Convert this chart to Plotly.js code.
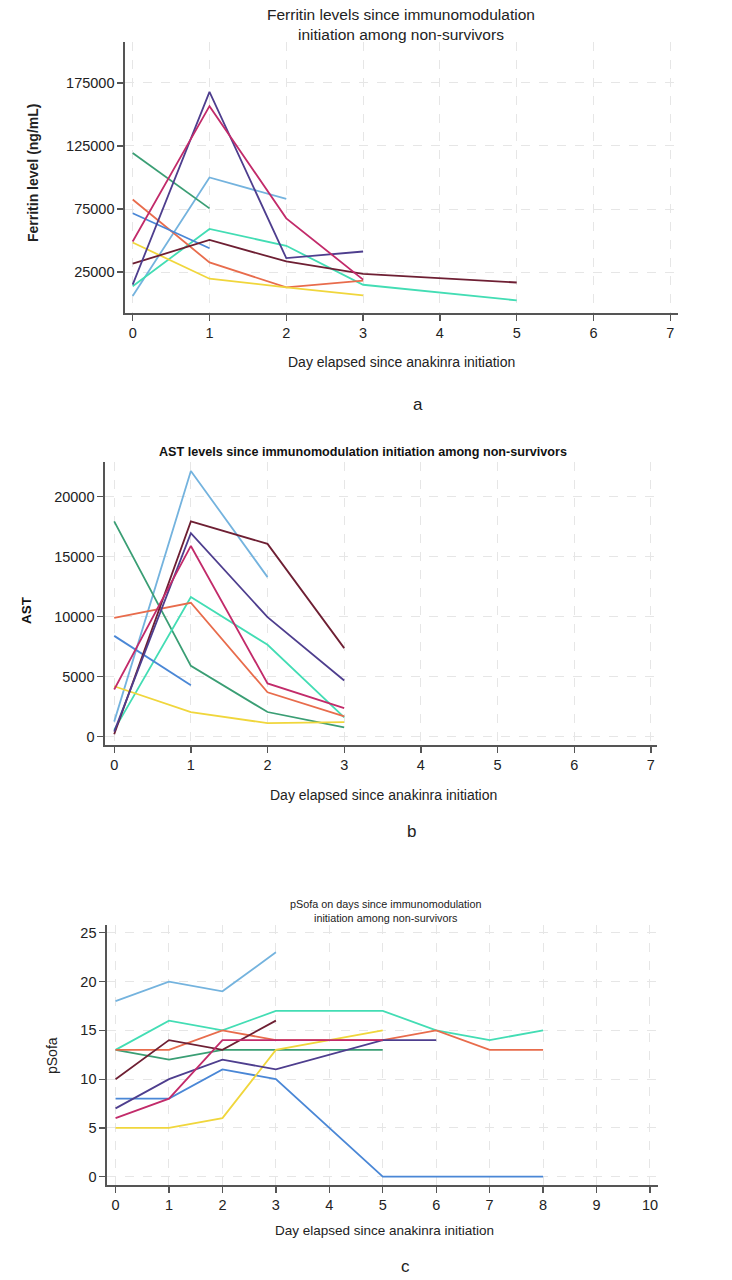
<!DOCTYPE html>
<html>
<head>
<meta charset="utf-8">
<script src="https://cdn.plot.ly/plotly-3.0.1.min.js"></script>
<style>html,body{margin:0;padding:0;background:#fff;}#chart{width:732px;height:1280px;}</style>
</head>
<body>
<div id="chart"></div>
<script>
// ---------- Colours (one per patient) ----------
const seriesNames = ["P1","P2","P3","P4","P5","P6","P7","P8","P9"];
const seriesColors = ["#74B3DE","#3A9E74","#43DDB4","#E86C4C","#4A87D6","#F0D63C","#6E1F33","#4E3E8E","#C22B6A"];

// ---------- Panel a: Ferritin (ng/mL) ----------
const ferDays = [
  [0,1,2],
  [0,1],
  [0,1,2,3,5],
  [0,1,2,3],
  [0,1],
  [0,1,2,3],
  [0,1,2,3,5],
  [0,1,2,3],
  [0,1,2,3]
];
const ferVals = [
  [6000,100000,83000],
  [119500,75500],
  [13700,59200,45800,14900,2500],
  [82600,32600,12900,18200],
  [71600,43900],
  [48400,19700,12900,6500],
  [31600,50500,33400,23600,16700],
  [15000,167900,36000,41300],
  [49200,156600,67600,19000]
];
const ferTicks = [25000,75000,125000,175000];
const ferDayTicks = [0,1,2,3,4,5,6,7];

// ---------- Panel b: AST ----------
const astDays = [
  [0,1,2],
  [0,1,2,3],
  [0,1,2,3],
  [0,1,2,3],
  [0,1],
  [0,1,2,3],
  [0,1,2,3],
  [0,1,2,3],
  [0,1,2,3]
];
const astVals = [
  [1250,22150,13300],
  [17950,5900,2050,760],
  [560,11640,7660,1600],
  [9900,11160,3700,1680],
  [8400,4290],
  [4200,2050,1120,1200],
  [200,17950,16070,7380],
  [420,16970,9960,4680],
  [3930,15900,4430,2380]
];
const astTicks = [0,5000,10000,15000,20000];
const astDayTicks = [0,1,2,3,4,5,6,7];

// ---------- Panel c: pSofa ----------
const sofaDays = [
  [0,1,2,3],
  [0,1,2,3,5],
  [0,1,2,3,5,6,7,8],
  [0,1,2,3,5,6,7,8],
  [0,1,2,3,5,6,7,8],
  [0,1,2,3,5],
  [0,1,2,3],
  [0,1,2,3,5,6],
  [0,1,2,3,5]
];
const sofaVals = [
  [18,20,19,23],
  [13,12,13,13,13],
  [13,16,15,17,17,15,14,15],
  [13,13,15,14,14,15,13,13],
  [8,8,11,10,0,0,0,0],
  [5,5,6,13,15],
  [10,14,13,16],
  [7,10,12,11,14,14],
  [6,8,14,14,14]
];
const sofaTicks = [0,5,10,15,20,25];
const sofaDayTicks = [0,1,2,3,4,5,6,7,8,9,10];

// ---------- Text ----------
const titleA = "Ferritin levels since immunomodulation<br>initiation among non-survivors";
const titleB = "AST levels since immunomodulation initiation among non-survivors";
const titleC = "pSofa on days since immunomodulation<br>initiation among non-survivors";
const xTitle = "Day elapsed since anakinra initiation";
const yTitleA = "Ferritin level (ng/mL)";
const yTitleB = "AST";
const yTitleC = "pSofa";

// ---------- Build ----------
const W = 732, H = 1280;
const px = v => v / W;
const py = v => 1 - v / H;
const FONT = "Liberation Sans, Arial, Helvetica, sans-serif";

const traces = [];
function addPanel(days, vals, xa, ya) {
  days.forEach((d, i) => {
    traces.push({
      type: "scatter", mode: "lines",
      x: d, y: vals[i],
      xaxis: xa, yaxis: ya,
      name: seriesNames[i],
      line: {color: seriesColors[i], width: 1.8},
      showlegend: false, hoverinfo: "skip"
    });
  });
}
addPanel(ferDays, ferVals, "x", "y");
addPanel(astDays, astVals, "x2", "y2");
addPanel(sofaDays, sofaVals, "x3", "y3");

function axis(domain, range, ticks, anchor) {
  return {
    domain: domain, range: range, anchor: anchor,
    tickmode: "array", tickvals: ticks, ticktext: ticks.map(String),
    showline: true, linecolor: "#555", linewidth: 1.6,
    ticks: "outside", ticklen: 6, tickcolor: "#555", tickwidth: 1.3,
    showgrid: true, gridcolor: "#e6e6e6", gridwidth: 1, griddash: "dash",
    zeroline: false, fixedrange: true,
    tickfont: {family: FONT, size: 14.5, color: "#222"}
  };
}

function ann(text, x, y, size, opts) {
  return Object.assign({
    text: text, xref: "paper", yref: "paper", x: px(x), y: py(y),
    xanchor: "center", yanchor: "middle", showarrow: false,
    font: {family: FONT, size: size, color: "#222"}
  }, opts || {});
}

const layout = {
  width: W, height: H,
  margin: {l: 0, r: 0, t: 0, b: 0},
  paper_bgcolor: "#fff", plot_bgcolor: "#fff",
  showlegend: false,
  xaxis: axis([px(125), px(678)], [-0.1, 7.1], ferDayTicks, "y"),
  yaxis: axis([py(313), py(42)], [-7500, 207500], ferTicks, "x"),
  xaxis2: axis([px(105), px(657)], [-0.12, 7.08], astDayTicks, "y2"),
  yaxis2: axis([py(745), py(462)], [-700, 22900], astTicks, "x2"),
  xaxis3: axis([px(107), px(658)], [-0.16, 10.15], sofaDayTicks, "y3"),
  yaxis3: axis([py(1185), py(925)], [-0.85, 25.8], sofaTicks, "x3"),
  annotations: [
    ann(titleA, 401, 24, 15.5),
    ann(xTitle, 401, 362, 14),
    ann(yTitleA, 33, 173, 14, {textangle: -90, font: {family: FONT, size: 14, color: "#222", weight: "bold"}}),
    ann("a", 418, 404, 17),

    ann(titleB, 363, 452, 12.6, {font: {family: FONT, size: 12.6, color: "#111", weight: "bold"}}),
    ann(xTitle, 383, 795, 14),
    ann(yTitleB, 26, 610, 13.5, {textangle: -90, font: {family: FONT, size: 13.5, color: "#111", weight: "bold"}}),
    ann("b", 412, 831, 17),

    ann(titleC, 385, 911, 10.8),
    ann(xTitle, 384, 1230, 13.5),
    ann(yTitleC, 52, 1056, 14, {textangle: -90}),
    ann("c", 405, 1266, 17)
  ]
};

Plotly.newPlot("chart", traces, layout, {staticPlot: true, displayModeBar: false});
</script>
</body>
</html>
